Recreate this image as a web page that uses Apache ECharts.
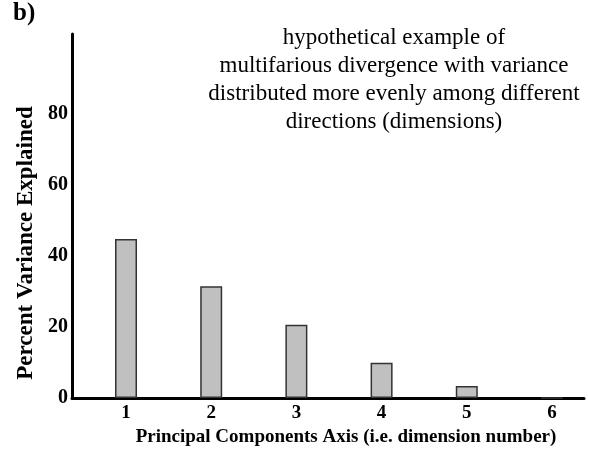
<!DOCTYPE html>
<html>
<head>
<meta charset="utf-8">
<script src="https://cdn.jsdelivr.net/npm/echarts@6/dist/echarts.min.js"></script>
<style>
html,body{margin:0;padding:0;background:#fff;}
#chart{width:589px;height:454px;}
</style>
</head>
<body>
<div id="chart"></div>
<script>
const components = [1, 2, 3, 4, 5, 6];
const percentVariance = [44.8, 31.5, 20.6, 9.9, 3.4, 0];
const yTicks = [0, 20, 40, 60, 80];
const panelLabel = 'b)';
const annotationLines = [
  'hypothetical example of',
  'multifarious divergence with variance',
  'distributed more evenly among different',
  'directions (dimensions)'
];
const xTitle = 'Principal Components Axis (i.e. dimension number)';
const yTitle = 'Percent Variance Explained';

const serif = '"Liberation Serif", "Times New Roman", serif';
const chart = echarts.init(document.getElementById('chart'), null, {renderer: 'canvas'});

chart.setOption({
  animation: false,
  backgroundColor: '#fff',
  grid: {left: 72, right: 5, top: 34, bottom: 56, containLabel: false},
  xAxis: {
    type: 'value',
    min: 0.366,
    max: 6.376,
    name: xTitle,
    nameLocation: 'middle',
    nameGap: 21,
    nameTextStyle: {fontFamily: serif, fontWeight: 'bold', fontSize: 19, color: '#000', padding: [0, 0, 0, 36]},
    axisLine: {show: true, lineStyle: {color: '#000', width: 3}},
    axisTick: {show: false},
    splitLine: {show: false},
    axisLabel: {
      customValues: components,
      fontFamily: serif, fontWeight: 'bold', fontSize: 19, color: '#000', margin: 6
    }
  },
  yAxis: {
    type: 'value',
    min: 0,
    max: 102.5,
    name: yTitle,
    nameLocation: 'middle',
    nameGap: 31,
    nameRotate: 90,
    nameTextStyle: {fontFamily: serif, fontWeight: 'bold', fontSize: 23, color: '#000', padding: [0, 54, 0, 0]},
    axisLine: {show: true, lineStyle: {color: '#000', width: 3}},
    axisTick: {show: false},
    splitLine: {show: false},
    axisLabel: {
      customValues: yTicks,
      fontFamily: serif, fontWeight: 'bold', fontSize: 20, color: '#000', margin: 4
    }
  },
  series: [{
    type: 'bar',
    barWidth: 22,
    data: components.map((c, i) => [c, percentVariance[i]]),
    itemStyle: {color: '#c0c0c0', borderColor: '#333', borderWidth: 1.5},
    z: 1
  }],
  graphic: [
    {
      type: 'text', left: 13, top: 1,
      style: {text: panelLabel, font: 'bold 25px ' + serif, fill: '#000'}
    },
    {
      type: 'text', x: 394, y: 24,
      style: {
        text: annotationLines.join('\n'),
        font: '23px ' + serif,
        lineHeight: 28,
        fill: '#000',
        align: 'center'
      }
    }
  ]
});
</script>
</body>
</html>
